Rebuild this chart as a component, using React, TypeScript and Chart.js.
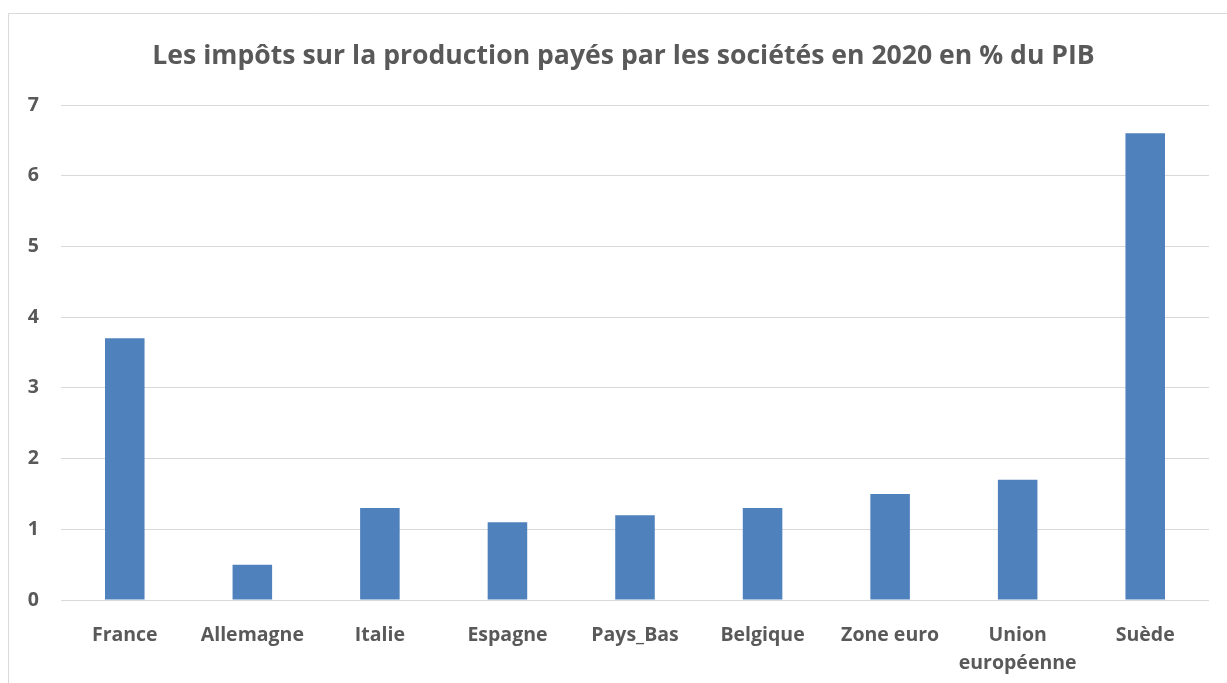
import React, { useEffect, useRef } from "react";
import { Chart, registerables } from "chart.js";

Chart.register(...registerables);

const categories: (string | string[])[] = [
  "France",
  "Allemagne",
  "Italie",
  "Espagne",
  "Pays_Bas",
  "Belgique",
  "Zone euro",
  ["Union", "européenne"],
  "Suède",
];
const values = [3.7, 0.5, 1.3, 1.1, 1.2, 1.3, 1.5, 1.7, 6.6];
const titleText = "Les impôts sur la production payés par les sociétés en 2020 en % du PIB";

const FONT = "'Open Sans', Lato, sans-serif";
const TEXT = "#595959";

const frameTitlePlugin = {
  id: "frameTitle",
  beforeDraw(chart: any) {
    const ctx = chart.ctx;
    ctx.save();
    ctx.fillStyle = "#ffffff";
    ctx.fillRect(0, 0, chart.width, chart.height);
    ctx.strokeStyle = "#d9d9d9";
    ctx.lineWidth = 1;
    ctx.beginPath();
    ctx.moveTo(8.5, chart.height);
    ctx.lineTo(8.5, 13.5);
    ctx.lineTo(chart.width, 13.5);
    ctx.stroke();
    ctx.fillStyle = TEXT;
    ctx.font = `bold 26.6px ${FONT}`;
    ctx.textAlign = "center";
    ctx.textBaseline = "middle";
    ctx.fillText(titleText, 623.5, 56);
    ctx.restore();
  },
};

export default function App() {
  const ref = useRef<HTMLCanvasElement>(null);
  useEffect(() => {
    if (!ref.current) return;
    const chart = new Chart(ref.current, {
      type: "bar",
      data: {
        labels: categories,
        datasets: [
          {
            data: values,
            backgroundColor: "#4F81BD",
            categoryPercentage: 1,
            barPercentage: 0.31,
          },
        ],
      },
      plugins: [frameTitlePlugin],
      options: {
        responsive: false,
        animation: false,
        layout: { padding: { left: 0, right: 18, top: 105, bottom: 0 } },
        plugins: {
          legend: { display: false },
          tooltip: { enabled: false },
          title: { display: false },
        },
        scales: {
          x: {
            grid: { display: false },
            border: { display: false },
            ticks: {
              color: TEXT,
              font: { family: FONT, size: 19.5, weight: "bold", lineHeight: 1.44 },
              padding: 13,
              maxRotation: 0,
              autoSkip: false,
            },
            afterFit(scale: any) {
              scale.height = 83;
            },
          },
          y: {
            min: 0,
            max: 7,
            grid: { color: "#d9d9d9", lineWidth: 1, drawTicks: false },
            border: { display: false },
            ticks: {
              stepSize: 1,
              color: TEXT,
              font: { family: FONT, size: 19.5, weight: "bold" },
              padding: 22,
            },
            afterFit(scale: any) {
              scale.width = 61;
            },
          },
        },
      },
    });
    return () => chart.destroy();
  }, []);
  return (
    <div style={{ position: "absolute", left: 0, top: 0, width: 1227, height: 683 }}>
      <canvas ref={ref} width={1227} height={683} />
    </div>
  );
}
